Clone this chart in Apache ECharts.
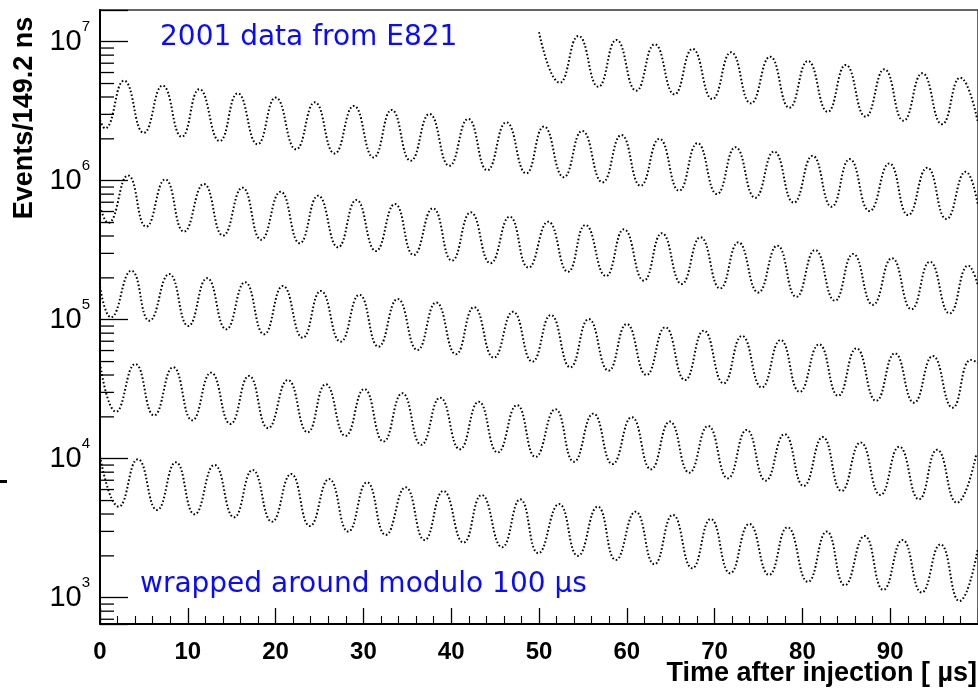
<!DOCTYPE html>
<html>
<head>
<meta charset="utf-8">
<script src="https://cdn.jsdelivr.net/npm/echarts@6/dist/echarts.min.js"></script>
<style>
  html, body { margin: 0; padding: 0; background: #fff; }
  #chart { width: 978px; height: 691px; }
</style>
</head>
<body>
<div id="chart"></div>
<script>
// time within the 100 us window [us], events per 149.2 ns bin (peaks / troughs)
const row1 = [[50.0,1.17e7],[52.36,5.07e6],[54.50,1.10e7],[56.76,4.74e6],[58.82,1.03e7],[61.07,4.44e6],[63.18,9.58e6],[65.43,4.18e6],[67.49,8.86e6],[69.74,3.87e6],[71.88,8.39e6],[74.13,3.60e6],[76.32,7.80e6],[78.52,3.35e6],[80.63,7.26e6],[82.88,3.13e6],[84.94,6.80e6],[87.20,2.89e6],[89.34,6.33e6],[91.52,2.70e6],[93.66,5.93e6],[95.91,2.55e6],[97.97,5.51e6],[100,2.6e6]];
const row2 = [[0,2.73e6],[0.56,2.38e6],[2.74,5.24e6],[4.99,2.21e6],[7.13,4.83e6],[9.31,2.07e6],[11.32,4.55e6],[13.63,1.93e6],[15.69,4.25e6],[17.94,1.83e6],[20.01,3.96e6],[22.33,1.68e6],[24.47,3.66e6],[26.72,1.57e6],[28.91,3.45e6],[31.16,1.47e6],[33.22,3.23e6],[35.39,1.39e6],[37.53,3.02e6],[39.79,1.28e6],[41.93,2.78e6],[44.11,1.19e6],[46.28,2.63e6],[48.54,1.13e6],[50.56,2.45e6],[52.82,1.06e6],[54.92,2.28e6],[57.24,9.74e5],[59.38,2.13e6],[61.57,9.20e5],[63.71,2.00e6],[65.96,8.48e5],[68.05,1.86e6],[70.27,8.02e5],[72.38,1.74e6],[74.63,7.54e5],[76.77,1.62e6],[79.02,6.95e5],[81.16,1.51e6],[83.33,6.50e5],[85.39,1.43e6],[87.65,6.05e5],[89.90,1.33e6],[92.04,5.66e5],[94.22,1.24e6],[96.40,5.30e5],[98.6,1.16e6],[100,6.6e5]];
const row3 = [[0,6.50e5],[0.93,4.97e5],[3.19,1.09e6],[5.26,4.67e5],[7.43,1.02e6],[9.57,4.30e5],[11.82,9.47e5],[14.02,4.03e5],[16.22,8.91e5],[18.36,3.76e5],[20.57,8.33e5],[22.75,3.55e5],[24.85,7.80e5],[27.11,3.32e5],[29.20,7.26e5],[31.42,3.12e5],[33.59,6.80e5],[35.73,2.92e5],[37.92,6.33e5],[40.09,2.66e5],[42.23,5.92e5],[44.48,2.55e5],[46.66,5.51e5],[48.80,2.37e5],[51.05,5.07e5],[53.30,2.21e5],[55.29,4.80e5],[57.62,2.06e5],[59.68,4.47e5],[61.94,1.91e5],[64.00,4.19e5],[66.25,1.81e5],[68.39,3.92e5],[70.64,1.68e5],[72.71,3.60e5],[74.97,1.57e5],[77.14,3.41e5],[79.31,1.46e5],[81.45,3.17e5],[83.70,1.37e5],[85.78,2.97e5],[88.03,1.28e5],[90.20,2.77e5],[92.42,1.19e5],[94.52,2.61e5],[96.77,1.11e5],[98.9,2.45e5],[100,1.75e5]];
const row4 = [[0,1.73e5],[1.24,1.04e5],[3.57,2.25e5],[5.63,9.84e4],[7.88,2.13e5],[10.06,9.01e4],[12.20,1.99e5],[14.38,8.53e4],[16.52,1.86e5],[18.69,7.85e4],[20.83,1.75e5],[23.09,7.42e4],[25.15,1.61e5],[27.40,6.95e4],[29.54,1.51e5],[31.72,6.40e4],[33.90,1.41e5],[36.15,6.05e4],[38.29,1.33e5],[40.54,5.64e4],[42.60,1.23e5],[44.85,5.33e4],[47.04,1.14e5],[49.24,4.99e4],[51.35,1.08e5],[53.57,4.55e4],[55.66,1.01e5],[57.92,4.30e4],[59.99,9.31e4],[62.24,4.00e4],[64.38,8.82e4],[66.63,3.68e4],[68.77,8.34e4],[71.03,3.49e4],[73.12,7.64e4],[75.37,3.26e4],[77.51,7.14e4],[79.69,3.03e4],[81.90,6.65e4],[84.08,2.84e4],[86.15,6.22e4],[88.40,2.61e4],[90.54,5.73e4],[92.71,2.53e4],[94.85,5.48e4],[97.11,2.33e4],[99.2,5.13e4],[100,4.9e4]];
const row5 = [[0,4.86e4],[1.82,2.18e4],[4.02,4.80e4],[6.16,2.05e4],[8.33,4.55e4],[10.51,1.89e4],[12.65,4.16e4],[14.86,1.78e4],[16.97,3.94e4],[19.14,1.66e4],[21.40,3.68e4],[23.65,1.55e4],[25.71,3.43e4],[27.96,1.46e4],[30.10,3.17e4],[32.29,1.33e4],[34.43,2.96e4],[36.60,1.26e4],[38.74,2.75e4],[40.99,1.17e4],[43.13,2.57e4],[45.30,1.11e4],[47.49,2.43e4],[49.61,1.03e4],[51.86,2.27e4],[53.98,9.51e3],[56.19,2.11e4],[58.37,9.16e3],[60.56,1.99e4],[62.76,8.39e3],[64.90,1.85e4],[67.12,7.93e3],[69.26,1.72e4],[71.51,7.23e3],[73.65,1.61e4],[75.82,6.95e3],[77.96,1.50e4],[80.15,6.37e3],[82.32,1.43e4],[84.46,5.86e3],[86.63,1.31e4],[88.89,5.48e3],[91.03,1.22e4],[93.28,5.10e3],[95.35,1.16e4],[97.60,4.83e3],[99.8,1.07e4]];
const row6 = [[0,1.04e4],[2.14,4.52e3],[4.31,9.90e3],[6.50,4.28e3],[8.64,9.42e3],[10.78,3.98e3],[13.03,9.01e3],[15.28,3.79e3],[17.38,8.30e3],[19.59,3.52e3],[21.77,7.76e3],[23.91,3.28e3],[26.09,7.14e3],[28.27,2.99e3],[30.41,6.76e3],[32.55,2.83e3],[34.80,6.22e3],[36.97,2.60e3],[39.11,5.86e3],[41.41,2.49e3],[43.47,5.48e3],[45.80,2.31e3],[47.86,5.10e3],[49.92,2.09e3],[52.29,4.72e3],[54.43,2.00e3],[56.68,4.52e3],[58.75,1.87e3],[61.00,4.16e3],[63.14,1.74e3],[65.24,3.94e3],[67.45,1.63e3],[69.56,3.68e3],[71.77,1.50e3],[73.95,3.39e3],[76.20,1.46e3],[78.30,3.21e3],[80.63,1.30e3],[82.77,2.99e3],[84.83,1.23e3],[87.08,2.78e3],[89.22,1.14e3],[91.41,2.60e3],[93.58,1.09e3],[95.72,2.42e3],[97.89,946],[100,2.28e3]];

const rows = [row1, row2, row3, row4, row5, row6];

// minor ticks of the log axis (2..9 x 10^n)
const yMinorTicks = [700, 800, 900,
  2000, 3000, 4000, 5000, 6000, 7000, 8000, 9000,
  20000, 30000, 40000, 50000, 60000, 70000, 80000, 90000,
  200000, 300000, 400000, 500000, 600000, 700000, 800000, 900000,
  2000000, 3000000, 4000000, 5000000, 6000000, 7000000, 8000000, 9000000];

const helv = '"Liberation Sans", Arial, Helvetica, sans-serif';
const comic = '"DejaVu Sans", sans-serif';

const chart = echarts.init(document.getElementById('chart'));

const rowSeries = rows.map((data, i) => ({
  type: 'line',
  name: 'row' + (i + 1),
  data: data,
  symbol: 'none',
  smooth: 0.5,
  silent: true,
  lineStyle: { color: '#000', width: 2, type: [1.6, 2.2] },
  z: 2,
}));

const minorTickSeries = {
  type: 'custom',
  data: yMinorTicks.map((v) => [0, v]),
  silent: true,
  clip: false,
  z: 5,
  renderItem: (params, api) => {
    const p = api.coord([0, api.value(1)]);
    return {
      type: 'line',
      shape: { x1: p[0], y1: p[1], x2: p[0] + 14, y2: p[1] },
      style: { stroke: '#000', lineWidth: 1.3 },
    };
  },
};

const option = {
  animation: false,
  backgroundColor: '#fff',
  grid: {
    left: 100, top: 10, width: 888, height: 614,
    show: true, borderColor: '#333', borderWidth: 1.5,
  },
  xAxis: {
    type: 'value', min: 0, max: 100, interval: 10,
    axisLine: { onZero: false, lineStyle: { color: '#000', width: 2 } },
    axisTick: { inside: true, length: 16, lineStyle: { color: '#000', width: 1.3 } },
    minorTick: { show: true, splitNumber: 5, length: 8, lineStyle: { color: '#000', width: 1.1 } },
    axisLabel: {
      margin: 16, color: '#000', fontFamily: helv, fontSize: 24, fontWeight: 'bold',
      showMaxLabel: false,
    },
    splitLine: { show: false },
  },
  yAxis: {
    type: 'log', logBase: 10, min: 647, max: 1.69e7,
    axisLine: { show: true, onZero: false, lineStyle: { color: '#000', width: 2 } },
    axisTick: { show: true, inside: true, length: 28, lineStyle: { color: '#000', width: 1.3 } },
    axisLabel: {
      margin: 10,
      formatter: (v) => {
        const e = Math.log10(v);
        if (Math.abs(e - Math.round(e)) > 1e-6) return '';
        return '{b|10}{s|' + Math.round(e) + '}';
      },
      rich: {
        b: { fontSize: 29, lineHeight: 44, fontFamily: helv, color: '#000' },
        s: { fontSize: 15, lineHeight: 15, verticalAlign: 'top', fontFamily: helv, color: '#000' },
      },
    },
    splitLine: { show: false },
  },
  graphic: [
    { type: 'text', x: 160, y: 38, style: { text: '2001 data from E821', fill: '#0a0aff', font: '28px ' + comic, verticalAlign: 'middle' } },
    { type: 'text', x: 140, y: 585, style: { text: 'wrapped around modulo 100 µs', fill: '#0a0aff', font: '28px ' + comic, verticalAlign: 'middle' } },
    { type: 'text', x: 977, y: 674, style: { text: 'Time after injection [ µs]', fill: '#000', font: 'bold 27px ' + helv, align: 'right', verticalAlign: 'middle' } },
    { type: 'text', x: 25, y: 118, rotation: Math.PI / 2, style: { text: 'Events/149.2 ns', fill: '#000', font: 'bold 27px ' + helv, align: 'center', verticalAlign: 'middle' } },
    { type: 'rect', shape: { x: 0, y: 480, width: 7, height: 3 }, style: { fill: '#000' } },
  ],
  series: [...rowSeries, minorTickSeries],
};

chart.setOption(option);
</script>
</body>
</html>
